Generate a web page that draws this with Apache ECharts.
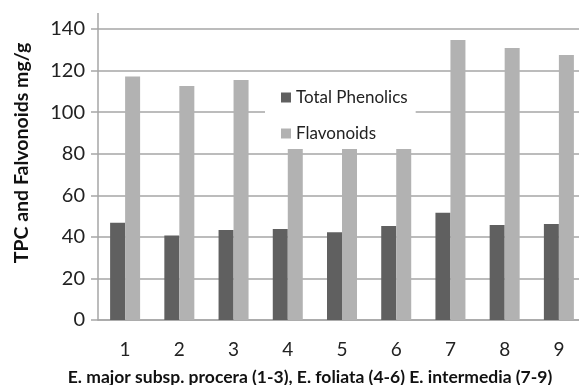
<!DOCTYPE html>
<html>
<head>
<meta charset="utf-8">
<script src="https://cdn.jsdelivr.net/npm/echarts@6/dist/echarts.min.js"></script>
<style>
  html, body { margin: 0; padding: 0; background: #fff; }
  #chart { width: 579px; height: 385px; }
</style>
</head>
<body>
<div id="chart"></div>
<script>
var categories = ['1', '2', '3', '4', '5', '6', '7', '8', '9'];
var totalPhenolics = [46.8, 40.7, 43.3, 43.8, 42.2, 45.2, 51.6, 45.7, 46.2];
var flavonoids = [117.1, 112.6, 115.5, 82.3, 82.3, 82.3, 134.7, 130.9, 127.5];
var yTicks = [0, 20, 40, 60, 80, 100, 120, 140];

var myChart = echarts.init(document.getElementById('chart'));
var font = 'Lato';

option = {
    animation: false,
    color: ['#606060', '#b2b2b2'],
    grid: { left: 98, top: 29, width: 488, height: 291, containLabel: false, outerBoundsMode: 'none' },
    legend: {
        orient: 'vertical',
        left: 265,
        top: 81,
        padding: [8, 8, 6, 16],
        itemGap: 19,
        itemWidth: 10,
        itemHeight: 10,
        backgroundColor: '#fff',
        icon: 'rect',
        textStyle: { fontFamily: font, fontSize: 17, color: '#222' },
        data: ['Total Phenolics', 'Flavonoids']
    },
    xAxis: {
        type: 'category',
        data: categories,
        name: 'E. major subsp. procera (1-3), E. foliata (4-6) E. intermedia (7-9)',
        nameLocation: 'middle',
        nameGap: 48,
        nameTextStyle: { fontFamily: font, fontWeight: 'bold', fontSize: 17.5, color: '#111', padding: [0, 64, 0, 0] },
        axisLine: { lineStyle: { color: '#a6a6a6', width: 1.5 } },
        axisTick: { show: false },
        axisLabel: { fontFamily: font, fontSize: 19, color: '#222', margin: 20 }
    },
    yAxis: {
        type: 'value',
        min: 0,
        max: 140,
        interval: 20,
        name: 'TPC and Falvonoids mg/g',
        nameLocation: 'middle',
        nameGap: 66,
        nameRotate: 90,
        nameTextStyle: { fontFamily: font, fontWeight: 'bold', fontSize: 19.5, color: '#111', padding: [0, 0, 0, 43] },
        axisLine: { show: true, lineStyle: { color: '#a6a6a6', width: 1.5 } },
        axisTick: { show: true, length: 7, lineStyle: { color: '#a6a6a6', width: 1.5 } },
        splitLine: { lineStyle: { color: '#a6a6a6', width: 1.5 } },
        axisLabel: {
            fontFamily: font, fontSize: 20, color: '#222', margin: 13,
            formatter: function (v) { return yTicks.indexOf(v) >= 0 ? String(v) : ''; }
        }
    },
    series: [
        {
            name: 'Total Phenolics',
            type: 'bar',
            barWidth: 15,
            barGap: '0%',
            data: totalPhenolics
        },
        {
            name: 'Flavonoids',
            type: 'bar',
            barWidth: 15,
            barGap: '0%',
            data: flavonoids
        }
    ],
    graphic: [
        {
            type: 'line',
            z: 10,
            shape: { x1: 98, y1: 13, x2: 98, y2: 29 },
            style: { stroke: '#a6a6a6', lineWidth: 1.5 }
        }
    ]
};
myChart.setOption(option);

window.addEventListener('resize', function () {
    myChart.resize();
});
</script>
</body>
</html>
